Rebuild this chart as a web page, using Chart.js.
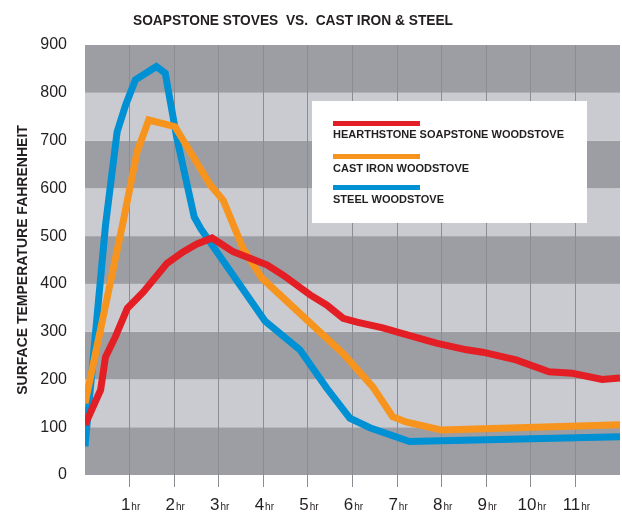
<!DOCTYPE html>
<html>
<head>
<meta charset="utf-8">
<script src="https://cdn.jsdelivr.net/npm/chart.js@4.4.0/dist/chart.umd.min.js"></script>
<style>
  body { margin: 0; background: #fff; }
  #wrap { width: 622px; height: 513px; }
</style>
</head>
<body>
<div id="wrap"><canvas id="myChart" width="622" height="513"></canvas></div>
<script>
'use strict';

const chartTitle = 'SOAPSTONE STOVES  VS.  CAST IRON & STEEL';
const yTitle = 'SURFACE TEMPERATURE FAHRENHEIT';
const hourLabels = ['1', '2', '3', '4', '5', '6', '7', '8', '9', '10', '11'];
const hourUnit = 'hr';
const yTicks = [0, 100, 200, 300, 400, 500, 600, 700, 800, 900];

const seriesNames = [
  'HEARTHSTONE SOAPSTONE WOODSTOVE',
  'CAST IRON WOODSTOVE',
  'STEEL WOODSTOVE',
];
const seriesColors = ['#e31e24', '#f7941d', '#0090d4'];

// hours / °F
const soapHours = [0, 0.35, 0.46, 0.68, 0.95, 1.31, 1.84, 2.2, 2.5, 2.85, 3.33, 4.08, 4.45, 5.05, 5.42, 5.79, 6.1, 6.68, 7.01, 7.88, 8.56, 8.92, 9.67, 10.41, 10.93, 11.6, 12];
const soapTemps = [105, 178, 247, 289, 349, 383, 443, 467, 483, 496, 467, 440, 418, 377, 356, 328, 320, 308, 299, 276, 262, 257, 241, 216, 213, 200, 203];

const ironHours = [0, 0.86, 1.17, 1.43, 2.02, 2.81, 3.1, 3.33, 3.55, 3.97, 5.78, 6.46, 6.9, 7.2, 8.0, 12];
const ironTemps = [150, 532, 677, 743, 729, 607, 575, 523, 473, 412, 255, 184, 122, 111, 94, 105];

const steelHours = [0, 0.46, 0.72, 0.91, 1.13, 1.6, 1.8, 2.06, 2.45, 2.6, 4.04, 4.82, 5.42, 5.94, 6.39, 7.28, 12];
const steelTemps = [60, 523, 718, 774, 827, 855, 841, 705, 540, 515, 322, 262, 182, 119, 99, 70, 80];

const FONT = "'Liberation Sans', Arial, sans-serif";

function toPoints(xs, ys) {
  return xs.map((x, i) => ({ x: x, y: ys[i] }));
}

const stripes = {
  id: 'stripes',
  beforeDraw(chart) {
    const { ctx, chartArea: a, scales: { y } } = chart;
    ctx.save();
    for (let i = 0; i < yTicks.length - 1; i++) {
      const top = y.getPixelForValue(yTicks[i + 1]);
      const bottom = y.getPixelForValue(yTicks[i]);
      ctx.fillStyle = i % 2 === 0 ? '#9c9ea4' : '#c9cbd0';
      ctx.fillRect(a.left, top, a.right - a.left, bottom - top);
    }
    ctx.restore();
  },
};

const texts = {
  id: 'texts',
  afterDraw(chart) {
    const { ctx, scales: { x } } = chart;
    ctx.save();
    ctx.fillStyle = '#231f20';

    // title
    ctx.font = 'bold 15px ' + FONT;
    ctx.textAlign = 'center';
    ctx.textBaseline = 'alphabetic';
    const tw = ctx.measureText(chartTitle).width;
    ctx.save();
    ctx.translate(293, 25);
    ctx.scale(320 / tw, 1);
    ctx.fillText(chartTitle, 0, 0);
    ctx.restore();

    // y axis title
    ctx.save();
    ctx.font = 'bold 14px ' + FONT;
    ctx.translate(27, 260);
    ctx.rotate(-Math.PI / 2);
    ctx.textAlign = 'center';
    ctx.fillText(yTitle, 0, 0);
    ctx.restore();

    // hour labels, number with small unit
    ctx.textAlign = 'left';
    hourLabels.forEach((lab, i) => {
      const px = x.getPixelForValue(i + 1);
      ctx.font = '17px ' + FONT;
      const nw = ctx.measureText(lab).width;
      ctx.font = '10px ' + FONT;
      const uw = ctx.measureText(hourUnit).width;
      const left = px + 1 - (nw + uw + 1) / 2;
      ctx.font = '17px ' + FONT;
      ctx.fillText(lab, left, 510);
      ctx.font = '10px ' + FONT;
      ctx.fillText(hourUnit, left + nw + 1, 510);
    });

    // legend box
    ctx.fillStyle = '#ffffff';
    ctx.fillRect(312, 101, 275, 122);
    const lineY = [121, 154, 185];
    const textY = [138, 172, 203];
    ctx.font = 'bold 11px ' + FONT;
    seriesNames.forEach((name, i) => {
      ctx.fillStyle = seriesColors[i];
      ctx.fillRect(333, lineY[i], 87, 5);
      ctx.fillStyle = '#231f20';
      ctx.fillText(name, 333, textY[i]);
    });
    ctx.restore();
  },
};

new Chart(document.getElementById('myChart'), {
  type: 'line',
  data: {
    datasets: [
      { label: seriesNames[0], data: toPoints(soapHours, soapTemps) },
      { label: seriesNames[1], data: toPoints(ironHours, ironTemps) },
      { label: seriesNames[2], data: toPoints(steelHours, steelTemps) },
    ].map((d, i) => Object.assign(d, {
      borderColor: seriesColors[i],
      borderWidth: 7,
      pointRadius: 0,
      tension: 0,
      fill: false,
      clip: 0,
    })),
  },
  options: {
    responsive: false,
    animation: false,
    layout: { padding: { top: 45, right: 2, bottom: 0, left: 0 } },
    plugins: {
      legend: { display: false },
      title: { display: false },
      tooltip: { enabled: false },
    },
    scales: {
      x: {
        type: 'linear',
        min: 0,
        max: 12,
        afterFit: (s) => { s.height = 38; },
        border: { display: false },
        grid: {
          drawOnChartArea: true,
          drawTicks: true,
          tickLength: 12,
          lineWidth: 1,
          color: (c) => (c.tick && (c.tick.value === 0 || c.tick.value === 12)) ? 'rgba(0,0,0,0)' : '#8b8d92',
        },
        ticks: { stepSize: 1, display: false },
      },
      y: {
        min: 0,
        max: 900,
        afterFit: (s) => { s.width = 85; },
        border: { display: false },
        grid: { display: false },
        ticks: {
          stepSize: 100,
          padding: 10,
          color: '#231f20',
          font: { family: FONT, size: 16 },
        },
      },
    },
  },
  plugins: [stripes, texts],
});
</script>
</body>
</html>
